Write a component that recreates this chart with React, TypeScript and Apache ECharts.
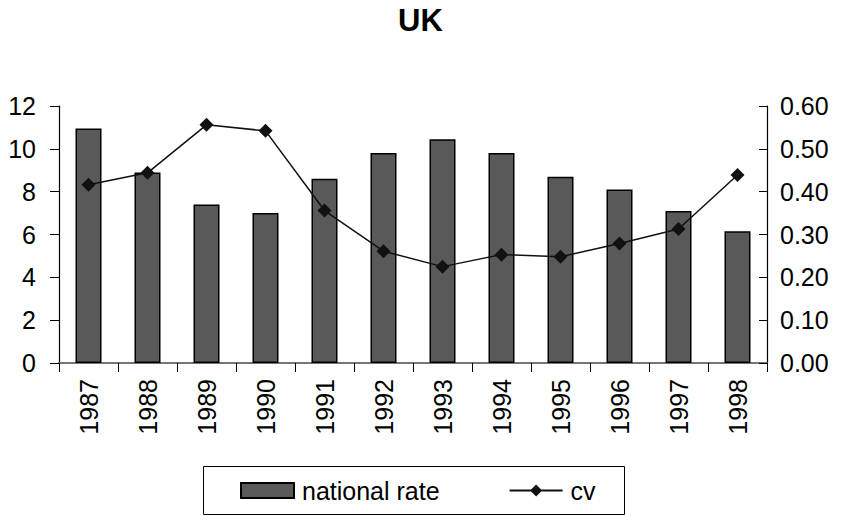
import React, { useEffect, useRef } from "react";
import * as echarts from "echarts";

const years = ["1987", "1988", "1989", "1990", "1991", "1992", "1993", "1994", "1995", "1996", "1997", "1998"];
const nationalRate = [10.95, 8.9, 7.4, 7.0, 8.6, 9.8, 10.45, 9.8, 8.7, 8.1, 7.1, 6.15];
const cv = [0.416, 0.444, 0.556, 0.542, 0.356, 0.261, 0.225, 0.253, 0.248, 0.279, 0.313, 0.439];
const leftTicks = { min: 0, max: 12, interval: 2 };
const rightTicks = { min: 0, max: 0.6, interval: 0.1 };

const FONT = "'Liberation Sans', Arial, sans-serif";

export default function App() {
  const ref = useRef<HTMLDivElement>(null);
  useEffect(() => {
    if (!ref.current) return;
    const chart = echarts.init(ref.current, undefined, { renderer: "svg" });
    chart.setOption({
      animation: false,
      backgroundColor: "#fff",
      textStyle: { fontFamily: FONT },
      title: {
        text: "UK",
        left: "center",
        top: 0,
        textStyle: { fontFamily: FONT, fontSize: 31, fontWeight: "bold", color: "#000" },
      },
      grid: { left: 59, right: 74, top: 106, height: 257, containLabel: false },
      legend: {
        left: 235,
        top: 473,
        itemWidth: 53,
        itemHeight: 15,
        itemGap: 69,
        textStyle: { fontFamily: FONT, fontSize: 25, color: "#000", padding: [0, 0, 0, 3] },
        data: [{ name: "national rate", icon: "rect" }, { name: "cv" }],
      },
      graphic: [
        {
          type: "rect",
          shape: { x: 203.5, y: 466.5, width: 421, height: 48 },
          style: { fill: "none", stroke: "#000", lineWidth: 1 },
          silent: true,
        },
      ],
      xAxis: [
        {
          type: "category",
          data: years,
          position: "bottom",
          axisLine: { lineStyle: { color: "#000", width: 1.5 } },
          axisTick: { show: true, length: 9, lineStyle: { color: "#000" } },
          axisLabel: { rotate: 90, margin: 16, fontSize: 25, color: "#000", fontFamily: FONT },
        },
        {
          type: "category",
          data: years,
          position: "top",
          axisLine: { lineStyle: { color: "#888", width: 1.5 } },
          axisTick: { show: false },
          axisLabel: { show: false },
        },
      ],
      yAxis: [
        {
          type: "value",
          ...leftTicks,
          axisLine: { show: true, lineStyle: { color: "#000", width: 1.2 } },
          axisTick: { show: true, length: 9, lineStyle: { color: "#000" } },
          axisLabel: { margin: 23, fontSize: 25, color: "#000", fontFamily: FONT },
          splitLine: { show: false },
        },
        {
          type: "value",
          ...rightTicks,
          position: "right",
          axisLine: { show: true, lineStyle: { color: "#000", width: 1.2 } },
          axisTick: { show: true, inside: true, length: 8, lineStyle: { color: "#000" } },
          axisLabel: {
            margin: 13,
            fontSize: 25,
            color: "#000",
            fontFamily: FONT,
            formatter: (v: number) => v.toFixed(2),
          },
          splitLine: { show: false },
        },
      ],
      series: [
        {
          name: "national rate",
          type: "bar",
          data: nationalRate,
          xAxisIndex: 0,
          yAxisIndex: 0,
          barWidth: 26,
          itemStyle: { color: "#595959", borderColor: "#000", borderWidth: 1.5 },
        },
        {
          name: "cv",
          type: "line",
          data: cv,
          xAxisIndex: 0,
          yAxisIndex: 1,
          symbol: "diamond",
          symbolSize: 14,
          lineStyle: { color: "#111", width: 1.5 },
          itemStyle: { color: "#111" },
        },
      ],
    });
    return () => chart.dispose();
  }, []);
  return (
    <div
      ref={ref}
      style={{ position: "fixed", left: 0, top: 0, width: 841, height: 516 }}
    />
  );
}
